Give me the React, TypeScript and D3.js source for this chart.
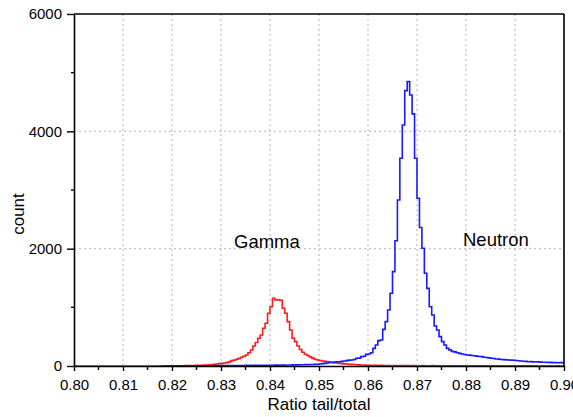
import React, { useEffect, useRef } from 'react';
import * as d3 from 'd3';

// histogram bins: width 0.0005, gamma from 0.800, neutron from 0.818
const binWidth = 0.0005;
const gammaStart = 0.8;
const neutronStart = 0.818;

const gammaCounts = [
  0, 0, 0, 0, 0, 0, 0, 0, 0, 0,
  0, 0, 0, 0, 0, 0, 0, 0, 0, 0,
  0, 0, 0, 0, 0, 0, 0, 0, 0, 0,
  0, 1, 0, 1, 1, 2, 1, 2, 2, 3,
  3, 4, 3, 5, 5, 6, 7, 7, 8, 9,
  10, 11, 12, 15, 18, 20, 25, 30, 35, 40,
  45, 50, 57, 70, 91, 100, 114, 130, 148, 165,
  188, 227, 273, 341, 400, 472, 529, 643, 728, 898,
  1011, 1154, 1125, 1128, 1120, 984, 898, 756, 614, 472,
  415, 340, 280, 235, 200, 180, 155, 135, 115, 102,
  95, 85, 78, 70, 63, 58, 53, 50, 45, 40,
  37, 33, 30, 28, 25, 22, 20, 18, 16, 14,
  12, 13, 10, 11, 9, 10, 8, 9, 7, 8,
  6, 8, 5, 7, 6, 5, 7, 4, 6, 5,
  5, 4, 6, 3, 5, 4, 6, 3, 4, 5,
  3, 5, 4, 2, 4, 3, 5, 2, 4, 3,
  3, 2, 4, 3, 2, 3, 4, 2, 3, 2,
  2, 3, 2, 4, 2, 3, 2, 1, 3, 2,
  2, 1, 3, 2, 1, 2, 3, 1, 2, 1,
  1, 2, 1, 1, 2, 1, 1, 2, 1, 1,
];

const neutronCounts = [
  1, 1, 1, 2,
  1, 2, 2, 2, 3, 2, 3, 3, 3, 4,
  3, 4, 4, 5, 4, 5, 5, 6, 5, 6,
  6, 7, 6, 7, 8, 7, 8, 9, 8, 9,
  10, 9, 10, 11, 10, 12, 11, 12, 13, 12,
  14, 13, 15, 14, 16, 15, 17, 16, 18, 19,
  20, 19, 21, 22, 23, 24, 25, 26, 28, 30,
  33, 40, 45, 52, 63, 65, 68, 70, 73, 78,
  85, 92, 100, 102, 110, 131, 135, 159, 165, 199,
  205, 227, 301, 358, 432, 443, 625, 756, 955, 1239,
  1608, 2136, 2830, 3540, 4109, 4694, 4847, 4620, 4297, 3540,
  2860, 2360, 2006, 1580, 1324, 1011, 870, 682, 614, 500,
  415, 358, 301, 275, 250, 240, 225, 216, 205, 195,
  187, 185, 178, 175, 168, 162, 160, 150, 145, 138,
  131, 128, 120, 118, 112, 108, 105, 102, 100, 97,
  95, 90, 86, 80, 78, 73, 75, 70, 68, 72,
  66, 63, 65, 60, 62, 58, 60, 55, 58, 57,
];

const xTicks = [0.8, 0.81, 0.82, 0.83, 0.84, 0.85, 0.86, 0.87, 0.88, 0.89, 0.9];
const yTicks = [0, 2000, 4000, 6000];

const width = 573;
const height = 417;
const margin = { top: 14, right: 9, bottom: 51, left: 74 };

const App = () => {
  const svgRef = useRef(null);

  useEffect(() => {
    const svg = d3.select(svgRef.current);
    svg.selectAll('*').remove();

    const x = d3.scaleLinear().domain([0.8, 0.9]).range([margin.left, width - margin.right]);
    const y = d3.scaleLinear().domain([0, 6000]).range([height - margin.bottom, margin.top]);
    const font = 'Arial, "Liberation Sans", sans-serif';

    // grid
    svg.append('g')
      .selectAll('line')
      .data(xTicks.slice(1, -1))
      .enter().append('line')
      .attr('x1', d => x(d)).attr('x2', d => x(d))
      .attr('y1', y(6000)).attr('y2', y(0))
      .attr('stroke', '#b4b4b4')
      .attr('stroke-dasharray', '2,3');

    svg.append('g')
      .selectAll('line')
      .data([2000, 4000])
      .enter().append('line')
      .attr('x1', x(0.8)).attr('x2', x(0.9))
      .attr('y1', d => y(d)).attr('y2', d => y(d))
      .attr('stroke', '#b4b4b4')
      .attr('stroke-dasharray', '2,3');

    // histogram steps
    const stepLine = d3.line().x(d => x(d[0])).y(d => y(d[1])).curve(d3.curveStepAfter);
    const toPoints = (start, counts) => {
      const pts = counts.map((c, i) => [start + i * binWidth, c]);
      pts.push([start + counts.length * binWidth, counts[counts.length - 1]]);
      return pts;
    };

    svg.append('path')
      .attr('d', stepLine(toPoints(gammaStart, gammaCounts)))
      .attr('fill', 'none')
      .attr('stroke', '#ff1a1a')
      .attr('stroke-width', 1.6);

    svg.append('path')
      .attr('d', stepLine(toPoints(neutronStart, neutronCounts)))
      .attr('fill', 'none')
      .attr('stroke', '#1a1aff')
      .attr('stroke-width', 1.6);

    // axes
    const xAxis = svg.append('g')
      .attr('transform', `translate(0, ${y(0)})`)
      .call(d3.axisBottom(x).tickValues(xTicks).tickFormat(d3.format('.2f')).tickSizeInner(5).tickSizeOuter(0).tickPadding(8));
    xAxis.append('g')
      .selectAll('line')
      .data(xTicks.slice(0, -1).map(t => t + 0.005))
      .enter().append('line')
      .attr('x1', d => x(d)).attr('x2', d => x(d))
      .attr('y1', 0).attr('y2', 4)
      .attr('stroke', '#000')
      .attr('stroke-width', 1.4);

    const yAxis = svg.append('g')
      .attr('transform', `translate(${x(0.8)}, 0)`)
      .call(d3.axisLeft(y).tickValues(yTicks).tickFormat(d3.format('d')).tickSizeInner(7).tickSizeOuter(0).tickPadding(5));
    yAxis.append('g')
      .selectAll('line')
      .data([1000, 3000, 5000])
      .enter().append('line')
      .attr('x1', -3).attr('x2', 0)
      .attr('y1', d => y(d)).attr('y2', d => y(d))
      .attr('stroke', '#000')
      .attr('stroke-width', 1.4);

    [xAxis, yAxis].forEach(a => {
      a.select('.domain').attr('stroke-width', 1.6);
      a.selectAll('.tick line').attr('stroke-width', 1.4);
      a.selectAll('.tick text').style('font-family', font).style('font-size', '15px').attr('fill', '#000');
    });

    // top and right frame
    svg.append('line')
      .attr('x1', x(0.8)).attr('x2', x(0.9)).attr('y1', y(6000)).attr('y2', y(6000))
      .attr('stroke', '#000').attr('stroke-width', 1.6);
    svg.append('line')
      .attr('x1', x(0.9)).attr('x2', x(0.9)).attr('y1', y(6000)).attr('y2', y(0))
      .attr('stroke', '#000').attr('stroke-width', 1.6);

    // axis titles
    svg.append('text')
      .attr('x', (x(0.8) + x(0.9)) / 2)
      .attr('y', 410)
      .attr('text-anchor', 'middle')
      .style('font-family', font)
      .style('font-size', '17px')
      .text('Ratio tail/total');

    svg.append('text')
      .attr('transform', 'translate(24, 214) rotate(-90)')
      .attr('text-anchor', 'middle')
      .style('font-family', font)
      .style('font-size', '17px')
      .text('count');

    // annotations
    svg.append('text')
      .attr('x', 234).attr('y', 248)
      .style('font-family', font)
      .style('font-size', '18.5px')
      .text('Gamma');

    svg.append('text')
      .attr('x', 463).attr('y', 246)
      .style('font-family', font)
      .style('font-size', '18.5px')
      .text('Neutron');
  }, []);

  return (
    <svg
      ref={svgRef}
      width={width}
      height={height}
      style={{ position: 'absolute', left: 0, top: 0, background: '#fff' }}
    />
  );
};

export default App;
